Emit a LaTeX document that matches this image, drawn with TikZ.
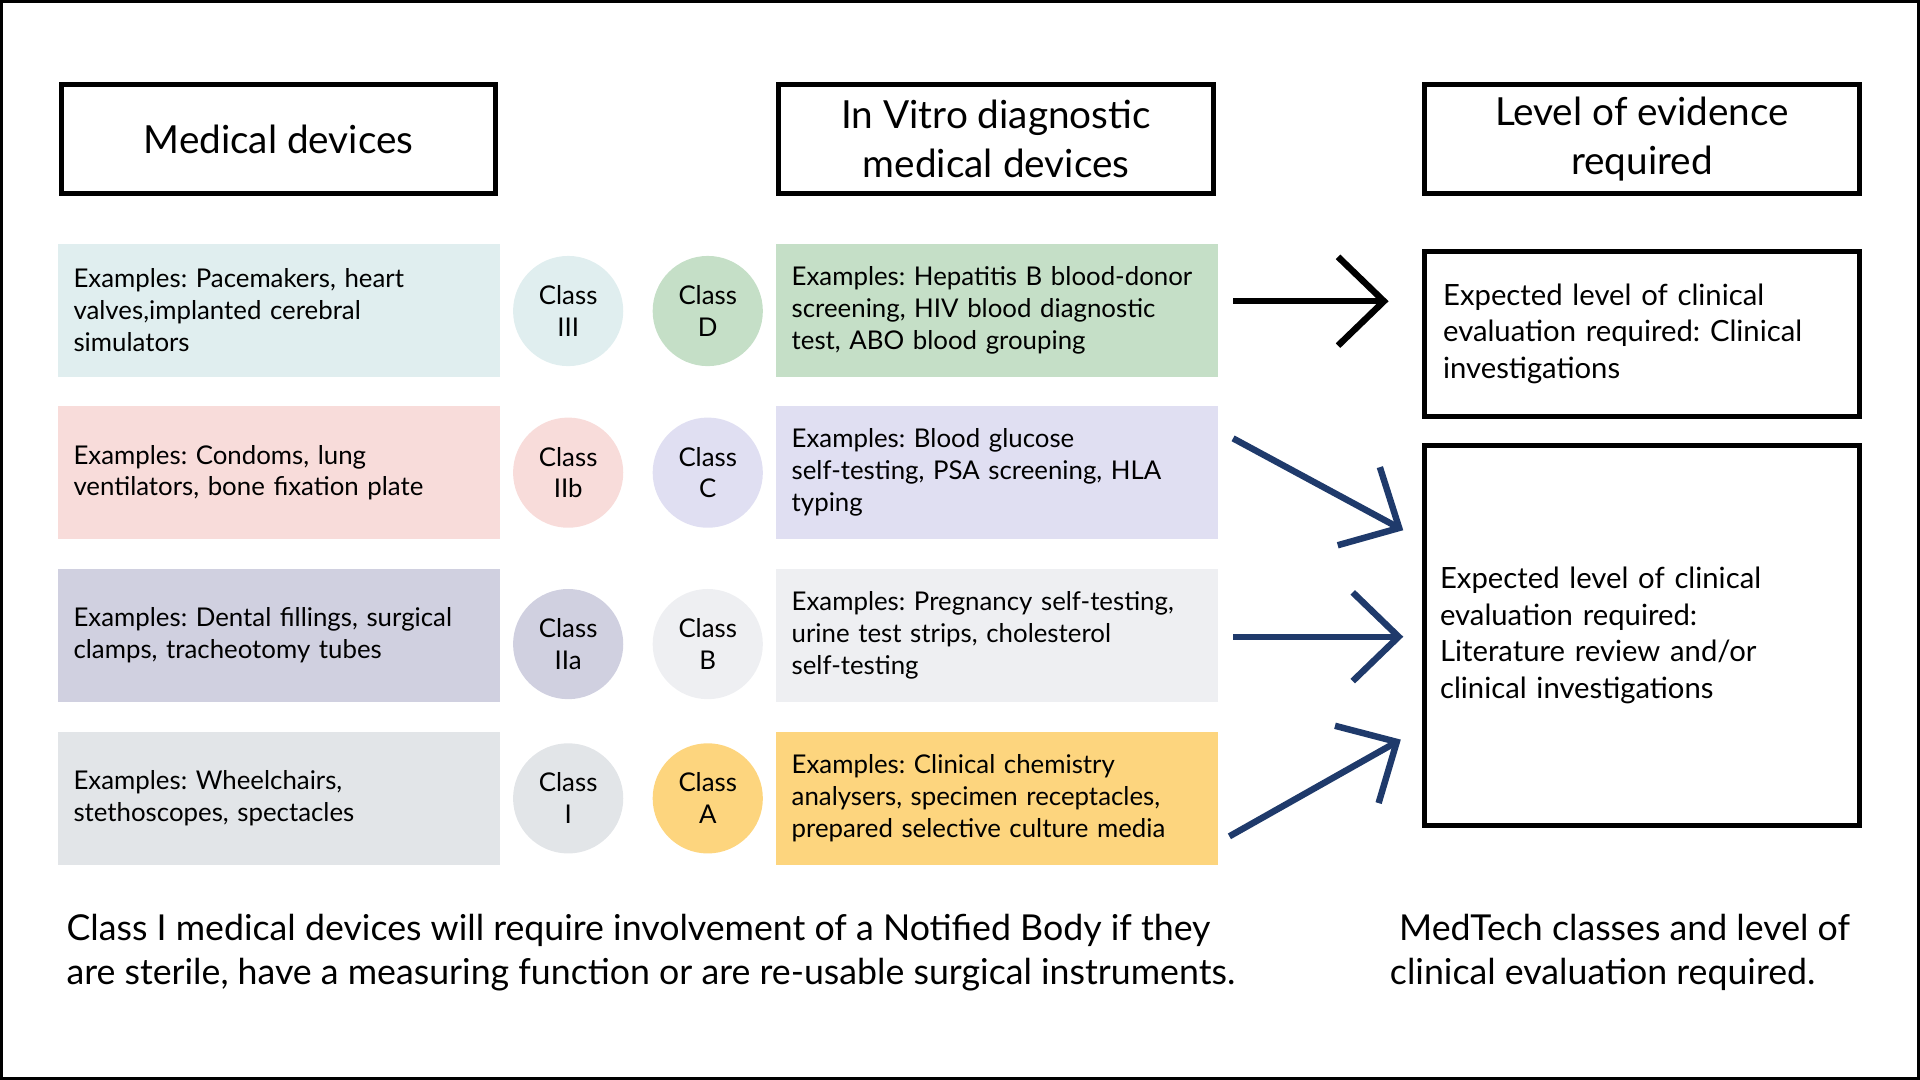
\documentclass[tikz,border=0pt]{standalone}
\usepackage{fontspec}
\setmainfont{Lato}
\usetikzlibrary{arrows.meta}
\definecolor{navy}{HTML}{1F3A6B}
\definecolor{cA}{HTML}{E0EEEF}\definecolor{cB}{HTML}{C5DFC7}
\definecolor{cC}{HTML}{F8DCDA}\definecolor{cD}{HTML}{E0DFF2}
\definecolor{cE}{HTML}{D0D0E0}\definecolor{cF}{HTML}{EEEFF2}
\definecolor{cG}{HTML}{E2E5E8}\definecolor{cH}{HTML}{FDD57E}
\begin{document}
\frenchspacing
\begin{tikzpicture}[x=0.02cm,y=-0.02cm,
 hdr/.style={draw=black,line width=2.3pt,minimum width=7.1cm,minimum height=1.78cm,align=center,font=\fontsize{18}{22.7}\selectfont,inner sep=0pt},
 row/.style={minimum width=7.22cm,minimum height=2.18cm,text width=6.7cm,inner xsep=0.26cm,align=left,font=\fontsize{12}{14.8}\selectfont,anchor=center},
 circ/.style={circle,minimum size=1.8cm,inner sep=0pt,align=center,font=\fontsize{12}{14.8}\selectfont},
 rbox/.style={draw=black,line width=2.3pt,minimum width=7.1cm,text width=6.5cm,align=left,inner xsep=0.3cm,font=\fontsize{13.6}{17}\selectfont},
 arr/.style={line width=3pt,-{Straight Barb[length=0.75cm,width=1.45cm,line width=3pt]}}]
\useasboundingbox (0,0) rectangle (1568,882);
\draw[line width=1.8pt] (1,1) rectangle (1567,881);
\node[hdr] (h1) at (227.5,113.5) {Medical devices};
\node[hdr] (h2) at (813.5,113.5) {In Vitro diagnostic\\medical devices};
\node[hdr] (h3) at (1341,113.5) {Level of evidence\\required};
\node[row,fill=cA] (l1) at (227.5,253.5) {Examples: Pacemakers, heart\\valves,implanted cerebral\\simulators};
\node[row,fill=cC] (l2) at (227.5,386) {Examples: Condoms, lung\\ventilators, bone fixation plate};
\node[row,fill=cE] (l3) at (227.5,519) {Examples: Dental fillings, surgical\\clamps, tracheotomy tubes};
\node[row,fill=cG] (l4) at (227.5,652) {Examples: Wheelchairs,\\stethoscopes, spectacles};
\node[row,fill=cB] (r1) at (814,253.5) {Examples: Hepatitis B blood-donor\\screening, HIV blood diagnostic\\test, ABO blood grouping};
\node[row,fill=cD] (r2) at (814,386) {Examples: Blood glucose\\self-testing, PSA screening, HLA\\typing};
\node[row,fill=cF] (r3) at (814,519) {Examples: Pregnancy self-testing,\\urine test strips, cholesterol\\self-testing};
\node[row,fill=cH] (r4) at (814,652) {Examples: Clinical chemistry\\analysers, specimen receptacles,\\prepared selective culture media};
\node[circ,fill=cA] (c1) at (464,254) {Class\\III};
\node[circ,fill=cB] (d1) at (578,254) {Class\\D};
\node[circ,fill=cC] (c2) at (464,386) {Class\\IIb};
\node[circ,fill=cD] (d2) at (578,386) {Class\\C};
\node[circ,fill=cE] (c3) at (464,526) {Class\\IIa};
\node[circ,fill=cF] (d3) at (578,526) {Class\\B};
\node[circ,fill=cG] (c4) at (464,652) {Class\\I};
\node[circ,fill=cH] (d4) at (578,652) {Class\\A};
\node[rbox,minimum height=2.7cm] (b1) at (1341,272.5) {Expected level of clinical\\evaluation required: Clinical\\investigations};
\node[rbox,minimum height=6.2cm,text width=6.6cm,inner xsep=0.24cm] (b2) at (1341,519) {Expected level of clinical\\evaluation required:\\Literature review and/or\\clinical investigations};
\coordinate (s1) at (1007,246); \coordinate (e1) at (1134,246);
\coordinate (s2) at (1007,358); \coordinate (e2) at (1146,433);
\coordinate (s3) at (1007,520); \coordinate (e3) at (1146,520);
\coordinate (s4) at (1004,683); \coordinate (e4) at (1144,604);
\draw[arr,black] (s1) -- (e1);
\draw[arr,navy] (s2) -- (e2);
\draw[arr,navy] (s3) -- (e3);
\draw[arr,navy] (s4) -- (e4);
\node[anchor=north west,align=left,inner sep=0pt,font=\fontsize{16.6}{20.4}\selectfont] (t1) at (54,746) {Class I medical devices will require involvement of a Notified Body if they\\are sterile, have a measuring function or are re-usable surgical instruments.};
\node[anchor=north,align=left,inner sep=0pt,font=\fontsize{16.6}{20.4}\selectfont] (t2) at (1323,746) {\ MedTech classes and level of\\clinical evaluation required.};
\end{tikzpicture}
\end{document}
